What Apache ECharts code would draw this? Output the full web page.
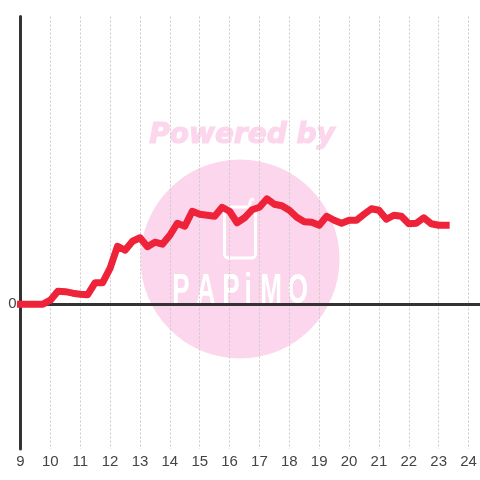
<!DOCTYPE html>
<html><head><meta charset="utf-8">
<style>html,body{margin:0;padding:0;background:#fefffe}#c{width:480px;height:480px}</style>
<script src="https://cdn.jsdelivr.net/npm/echarts@6/dist/echarts.min.js"></script>
</head><body><div id="c"></div>
<script>
const hours=[9,9.25,9.5,9.75,10,10.25,10.5,10.75,11,11.25,11.5,11.75,12,12.25,12.5,12.75,13,13.25,13.5,13.75,14,14.25,14.5,14.75,15,15.25,15.5,15.75,16,16.25,16.5,16.75,17,17.25,17.5,17.75,18,18.25,18.5,18.75,19,19.25,19.5,19.75,20,20.25,20.5,20.75,21,21.25,21.5,21.75,22,22.25,22.5,22.75,23,23.25];
const values=[0,0,0,0,4,13,12.5,11,10,9.5,21.5,21.5,36,58,54,63,66.5,57.5,62,60,69,81,78,93,90,89,88,97,93,81.5,86.5,94.5,97,105.5,100,98.5,94,87,82.5,82,79,88,84,81,84,84,90,95.5,94,85,89,88,80.5,81,86.5,80.5,79,79];
const tickInterval=1;
const chart=echarts.init(document.getElementById('c'),null,{renderer:'canvas'});
const pink='#fcd6ec';
const letters=['P','A','P','i','M','O'];
const letterX=[181,206,231,248,271,298];
chart.setOption({
  animation:false,
  backgroundColor:'#fefffe',
  grid:{left:20.5,right:-2,top:16.5,bottom:31,containLabel:false},
  xAxis:[
    {type:'value',min:9,max:24.383,interval:tickInterval,position:'bottom',
     axisLine:{show:false},axisTick:{show:false},
     axisLabel:{color:'#444',fontFamily:'Liberation Sans',fontSize:15,margin:5,showMaxLabel:false,hideOverlap:false,
       formatter:v=>Number.isInteger(v)?String(v):''},
     splitLine:{show:true,showMaxLine:false,lineStyle:{color:'#cacaca',width:1,type:[2,2]}}},
    {type:'value',min:9,max:24.383,interval:tickInterval,
     axisLine:{show:true,onZero:true,onZeroAxisIndex:0,lineStyle:{color:'#333',width:3}},
     axisTick:{show:false},axisLabel:{show:false},splitLine:{show:false}}
  ],
  yAxis:{type:'value',min:-145,max:288,interval:145,
    axisLine:{show:true,onZero:false,lineStyle:{color:'#333',width:3}},
    axisTick:{show:false},
    axisLabel:{color:'#444',fontFamily:'Liberation Sans',fontSize:15,margin:4,padding:[6,0,0,0],
      formatter:v=>v===0?'0':''},
    splitLine:{show:false}},
  graphic:{elements:[
    {type:'circle',z:-10,shape:{cx:240,cy:259,r:99.5},style:{fill:pink}},
    {type:'text',z:-9,x:242,y:136,style:{text:'Powered by',fill:pink,stroke:pink,lineWidth:1.2,font:'italic bold 28px "DejaVu Sans"',align:'center',verticalAlign:'middle'}},
    {type:'rect',z:-9,shape:{x:224.5,y:207,width:31,height:51,r:4},style:{fill:'none',stroke:'#fff',lineWidth:3}},
    {type:'polyline',z:-9,shape:{points:[[249,206],[251,200],[254,199]]},style:{fill:'none',stroke:'#fff',lineWidth:3}},
    ...letters.map((t,i)=>({type:'text',z:-9,x:letterX[i],y:291,scaleX:0.62,
      style:{text:t,fill:'#fff',font:'bold 42px "Liberation Sans"',align:'center',verticalAlign:'middle'}}))
  ]},
  series:[{type:'line',xAxisIndex:0,data:hours.map((h,i)=>[h,values[i]]),showSymbol:false,smooth:false,clip:false,z:5,
    lineStyle:{color:'#ee2238',width:7,cap:'square',join:'round'}}]
});
</script></body></html>
